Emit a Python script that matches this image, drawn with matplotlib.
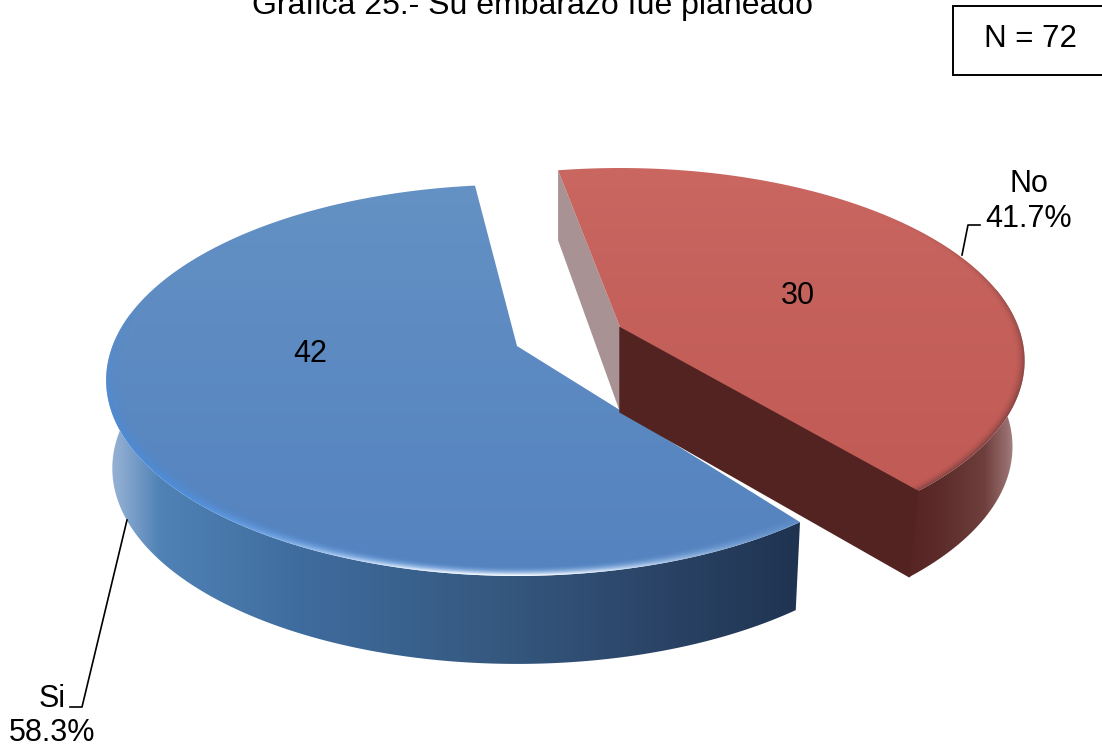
import numpy as np
import matplotlib
matplotlib.use('Agg')
from matplotlib import pyplot as plt
from matplotlib.patches import Polygon, Rectangle

# data
categories = ['Si', 'No']
counts = [42, 30]
title = 'Gráfica 25.- Su embarazo fue planeado'
n_label = 'N = 72'

W, H = 1102, 746
plt.rcParams['font.family'] = ['Liberation Sans', 'DejaVu Sans']

fig = plt.figure(figsize=(W / 100, H / 100), dpi=100)
ax = fig.add_axes([0, 0, 1, 1])
ax.set_xlim(0, W)
ax.set_ylim(H, 0)
ax.axis('off')

# perspective of the disc
A, B, K = 408.6, 191.6, 0.175
START_SI = 97
START_NO = 100.5

shares = np.array(counts) / sum(counts)
spans = shares * 360


def project(theta, cx, cy, scale):
    u = np.cos(np.radians(theta))
    v = np.sin(np.radians(theta))
    w = 1 + K * v
    return cx + scale * A * u / w, cy - scale * B * v / w


def blend(base, other, amount):
    return base * (1 - amount[..., None]) + other * amount[..., None]


def rgb(code):
    return np.array(matplotlib.colors.to_rgb(code))


def face_image(cx, cy, scale, top_col, low_col, rims):
    # rims: (colour, power of the front lobe, radius where it starts, lobe direction in degrees)
    xx, yy = np.meshgrid(np.arange(W) + 0.5, np.arange(H) + 0.5)
    p = (xx - cx) / (scale * A)
    q = -(yy - cy) / (scale * B)
    v = q / (1 - K * q)
    u = p * (1 + K * v)
    r = np.hypot(u, v)
    t = np.clip((v + 1) / 2, 0, 1)
    img = blend(np.ones(xx.shape + (3,)) * rgb(low_col), rgb(top_col), t)
    for col, power, start, angle in rims:
        lobe = (u * np.cos(np.radians(angle)) + v * np.sin(np.radians(angle))) / np.maximum(r, 1e-3)
        lobe = np.clip(lobe, 0, 1) ** power
        band = np.clip((r - start) / (0.998 - start), 0, 1) ** 2
        img = blend(img, rgb(col), np.clip(band * lobe, 0, 1))
    return img


def wall_image(stops):
    xs = [s[0] for s in stops]
    cols = np.array([rgb(s[1]) for s in stops])
    line = np.stack([np.interp(np.arange(W) + 0.5, xs, cols[:, i]) for i in range(3)], axis=-1)
    return np.repeat(line[None, :, :], H, axis=0)


def show_clipped(img, verts, zorder):
    patch = Polygon(verts, closed=True, transform=ax.transData, fc='none', ec='none')
    ax.add_patch(patch)
    im = ax.imshow(img, extent=(0, W, H, 0), zorder=zorder, aspect='auto', interpolation='bilinear')
    im.set_clip_path(patch)


def wedge(theta0, theta1, wall0, wall1, cx, cy, scale, depth, taper, face, wall_stops, zorder):
    # outer wall, only the part turned to the viewer
    th = np.linspace(wall0, wall1, 300)
    x, y = project(th, cx, cy, scale)
    wall = np.r_[np.c_[x, y], np.c_[cx + (x - cx)[::-1] * taper, y[::-1] + depth]]
    show_clipped(wall_image(wall_stops), wall, zorder)
    # top
    th = np.linspace(theta0, theta1, 300)
    x, y = project(th, cx, cy, scale)
    show_clipped(face, np.r_[[[cx, cy]], np.c_[x, y]], zorder + 2)


# Si slice, counter clockwise from its start angle
si_end = START_SI + spans[0]
wedge(START_SI, si_end, 170, si_end, 517, 346, 0.99, 88, 0.985,
      face_image(517, 346, 0.99, '#6592c4', '#5583bf',
                 [('#4a8cdc', 2.0, 0.955, 240), ('#f4f9ff', 10.0, 0.965, 268)]),
      [(105, '#9db8d8'), (122, '#8aa9cf'), (160, '#5082b6'), (300, '#3f6c9e'),
       (500, '#35587f'), (650, '#2b4568'), (805, '#1f3350')], 2)

# No slice, clockwise from its start angle
cx, cy, sc = 620, 327, 0.975
no_depth, no_taper = 86, 0.97
no_end = START_NO - spans[1]
sx, sy = project(START_NO, cx, cy, sc)
ex, ey = project(no_end, cx, cy, sc)

# cut walls of the No slice
ax.add_patch(Polygon([(cx, cy), (sx, sy), (sx, sy + 70), (cx, cy + no_depth - 1)],
                     fc='#a89294', ec='none', zorder=6))
ax.add_patch(Polygon([(cx, cy), (ex, ey), (cx + (ex - cx) * no_taper, ey + no_depth), (cx, cy + no_depth - 1)],
                     fc='#522320', ec='#522320', lw=1, zorder=8))
wedge(no_end, START_NO, no_end, 12, cx, cy, sc, no_depth, no_taper,
      face_image(cx, cy, sc, '#ca6761', '#bf5954',
                 [('#8a4543', 1.5, 0.975, -40)]),
      [(900, '#552321'), (940, '#5c2c2a'), (985, '#6f3f3d'), (1008, '#98706f'), (1028, '#c8b8b8')], 7)

# value labels
fs = 22
ax.text(310, 354, str(counts[0]), fontsize=fs, ha='center', va='center', zorder=20)
ax.text(798, 296, str(counts[1]), fontsize=fs, ha='center', va='center', zorder=20)

# category labels with leaders
ax.text(52, 699, categories[0], fontsize=fs, ha='center', va='center', zorder=20)
ax.text(52, 733, f'{shares[0] * 100:.1f}%', fontsize=fs, ha='center', va='center', zorder=20)
ax.plot([127, 82, 70], [520, 707, 707], color='black', lw=1.2, zorder=20)

ax.text(1029, 184, categories[1], fontsize=fs, ha='center', va='center', zorder=20)
ax.text(1029, 219, f'{shares[1] * 100:.1f}%', fontsize=fs, ha='center', va='center', zorder=20)
ax.plot([962, 968, 980], [255, 225, 225], color='black', lw=1.2, zorder=20)

# title and N box
ax.text(533, 14, title, fontsize=23, ha='center', va='baseline', zorder=20)
ax.add_patch(Rectangle((953, 6), 160, 69, fc='white', ec='black', lw=1.4, zorder=19))
ax.text(1031, 39, n_label, fontsize=22.5, ha='center', va='center', zorder=20)

ax.set_xlim(0, W)
ax.set_ylim(H, 0)
fig.savefig('out.png', dpi=100)
